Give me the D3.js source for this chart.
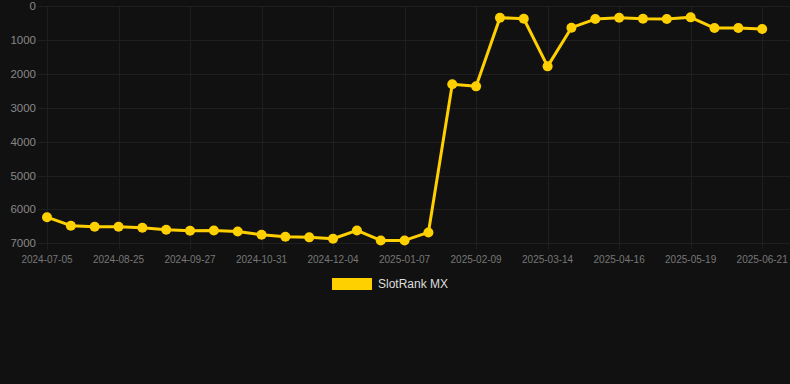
<!DOCTYPE html>
<html>

<head>
    <script src="https://d3js.org/d3.v7.min.js"></script>
    <style>
        body {
            margin: 0;
            background: #111111;
        }

        svg {
            display: block;
            font-family: "Liberation Sans", Arial, sans-serif;
        }

        .grid line {
            stroke: #1f1f1f;
            stroke-width: 1;
        }
    </style>
</head>

<body>
    <script>
        // categories (last slot has no data point)
        var dates = [
            "2024-07-05", "2024-07-22", "2024-08-08", "2024-08-25", "2024-09-05", "2024-09-16",
            "2024-09-27", "2024-10-08", "2024-10-20", "2024-10-31", "2024-11-11", "2024-11-23",
            "2024-12-04", "2024-12-15", "2024-12-26", "2025-01-07", "2025-01-18", "2025-01-29",
            "2025-02-09", "2025-02-20", "2025-03-03", "2025-03-14", "2025-03-25", "2025-04-05",
            "2025-04-16", "2025-04-27", "2025-05-08", "2025-05-19", "2025-05-30", "2025-06-10",
            "2025-06-21", "2025-07-02"
        ];

        var rankMX = [
            6230, 6480, 6510, 6510, 6540, 6600, 6630, 6620, 6650, 6750, 6805,
            6825, 6865, 6620, 6915, 6915, 6680, 2310, 2370, 345, 375, 1780,
            640, 385, 345, 375, 385, 335, 650, 650, 678
        ];

        var yTicks = [0, 1000, 2000, 3000, 4000, 5000, 6000, 7000];
        var seriesName = "SlotRank MX";
        var lineColor = "#FFD000";

        var width = 790, height = 384;
        var margin = { left: 47, right: 4, top: 6, bottom: 141 };

        var svg = d3.select("body").append("svg")
            .attr("width", width)
            .attr("height", height);

        var x = d3.scalePoint()
            .domain(dates)
            .range([margin.left, width - margin.right]);

        var y = d3.scaleLinear()
            .domain([0, 7000])
            .range([margin.top, height - margin.bottom + 0.3]);

        var shownDates = dates.filter(function (d, i) { return i % 3 === 0 && i < 31; });

        // grid
        var grid = svg.append("g").attr("class", "grid");
        grid.selectAll(".h")
            .data(yTicks)
            .enter().append("line")
            .attr("class", "h")
            .attr("x1", margin.left - 9)
            .attr("x2", width)
            .attr("y1", function (d) { return Math.round(y(d)) + 0.5; })
            .attr("y2", function (d) { return Math.round(y(d)) + 0.5; });

        grid.selectAll(".v")
            .data(shownDates)
            .enter().append("line")
            .attr("class", "v")
            .attr("x1", function (d) { return Math.round(x(d)) + 0.5; })
            .attr("x2", function (d) { return Math.round(x(d)) + 0.5; })
            .attr("y1", margin.top)
            .attr("y2", y(7000) + 6);

        // y axis labels
        svg.append("g")
            .selectAll("text")
            .data(yTicks)
            .enter().append("text")
            .attr("x", 36)
            .attr("y", function (d) { return y(d); })
            .attr("dy", "0.35em")
            .attr("text-anchor", "end")
            .attr("fill", "#888888")
            .style("font-size", "11.5px")
            .text(function (d) { return d; });

        // x axis labels
        svg.append("g")
            .selectAll("text")
            .data(shownDates)
            .enter().append("text")
            .attr("x", function (d) { return x(d); })
            .attr("y", 259)
            .attr("dy", "0.35em")
            .attr("text-anchor", "middle")
            .attr("fill", "#777777")
            .style("font-size", "10px")
            .text(function (d) { return d; });

        var points = rankMX.map(function (v, i) { return { date: dates[i], value: v }; });

        var line = d3.line()
            .x(function (d) { return x(d.date); })
            .y(function (d) { return y(d.value); });

        svg.append("path")
            .datum(points)
            .attr("d", line)
            .attr("fill", "none")
            .attr("stroke", lineColor)
            .attr("stroke-width", 3)
            .attr("stroke-linejoin", "round");

        svg.append("g")
            .selectAll("circle")
            .data(points)
            .enter().append("circle")
            .attr("cx", function (d) { return x(d.date); })
            .attr("cy", function (d) { return y(d.value); })
            .attr("r", 5)
            .attr("fill", lineColor);

        // legend
        var legend = svg.append("g");
        legend.append("rect")
            .attr("x", 332)
            .attr("y", 278)
            .attr("width", 40)
            .attr("height", 12)
            .attr("fill", lineColor);
        legend.append("text")
            .attr("x", 378)
            .attr("y", 284)
            .attr("dy", "0.35em")
            .attr("fill", "#dddddd")
            .style("font-size", "12px")
            .text(seriesName);
    </script>
</body>

</html>
